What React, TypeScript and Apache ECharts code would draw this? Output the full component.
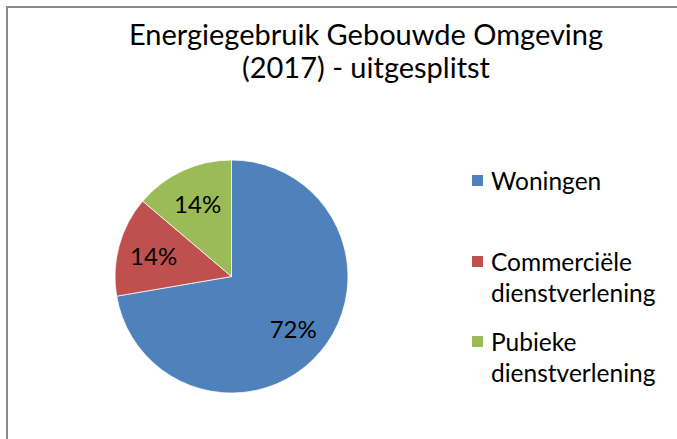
import React, { useEffect, useRef } from "react";
import * as echarts from "echarts";

const categories = ["Woningen", "Commerciële dienstverlening", "Pubieke dienstverlening"];
const legendLabels = ["Woningen", "Commerciële\ndienstverlening", "Pubieke\ndienstverlening"];
const values = [72.3, 13.9, 13.8];
const colors = ["#4F81BD", "#C0504D", "#9BBB59"];
const titleText = "Energiegebruik Gebouwde Omgeving\n(2017) - uitgesplitst";

const FONT = "Lato, 'Noto Sans', sans-serif";

export default function App() {
  const ref = useRef<HTMLDivElement>(null);
  useEffect(() => {
    if (!ref.current) return;
    const chart = echarts.init(ref.current, undefined, { renderer: "svg" });
    const data = categories.map((name, i) => ({ name, value: values[i], itemStyle: { color: colors[i] } }));
    const legendTops = [165, 215, 295];
    const legends = categories.map((name, i) => {
      const multi = legendLabels[i].includes("\n");
      return {
        left: 470,
        top: legendTops[i],
        orient: "vertical",
        padding: 0,
        itemWidth: 13,
        itemHeight: 13,
        icon: "rect",
        selectedMode: false,
        data: [name],
        formatter: () => (multi ? "\n" : "") + legendLabels[i],
        textStyle: {
          fontFamily: FONT,
          fontSize: 24.5,
          lineHeight: 31,
          color: "#000",
          padding: [0, 0, 0, 2],
        },
      };
    });
    chart.setOption({
      animation: false,
      backgroundColor: "#fff",
      title: {
        text: titleText,
        left: 361,
        top: 12,
        textAlign: "center",
        textStyle: {
          fontFamily: FONT,
          fontSize: 29,
          lineHeight: 33,
          fontWeight: "normal",
          color: "#000",
        },
      },
      legend: legends,
      graphic: [
        { type: "line", shape: { x1: 7, y1: 7, x2: 7, y2: 439 }, style: { stroke: "#8a8a8a", lineWidth: 2 } },
        { type: "line", shape: { x1: 6, y1: 7, x2: 677, y2: 7 }, style: { stroke: "#8a8a8a", lineWidth: 2 } },
      ],
      series: [
        {
          type: "pie",
          center: [231.5, 276.5],
          radius: [0, 116.5],
          startAngle: 90,
          clockwise: true,
          data,
          label: { show: false },
          labelLine: { show: false },
          itemStyle: { borderColor: "#ffffff", borderWidth: 0.75 },
          emphasis: { disabled: true },
        },
        {
          type: "pie",
          center: [231.5, 276.5],
          radius: [39, 116.5],
          startAngle: 90,
          clockwise: true,
          silent: true,
          data: categories.map((name, i) => ({ name, value: values[i], itemStyle: { color: "rgba(0,0,0,0)" } })),
          label: {
            show: true,
            position: "inside",
            formatter: (p: any) => Math.round(p.percent) + "%",
            fontFamily: FONT,
            fontSize: 24,
            color: "#000",
          },
          labelLine: { show: false },
          emphasis: { disabled: true },
        },
      ],
    });
    return () => chart.dispose();
  }, []);
  return <div ref={ref} style={{ position: "fixed", left: 0, top: 0, width: 677, height: 439 }} />;
}
